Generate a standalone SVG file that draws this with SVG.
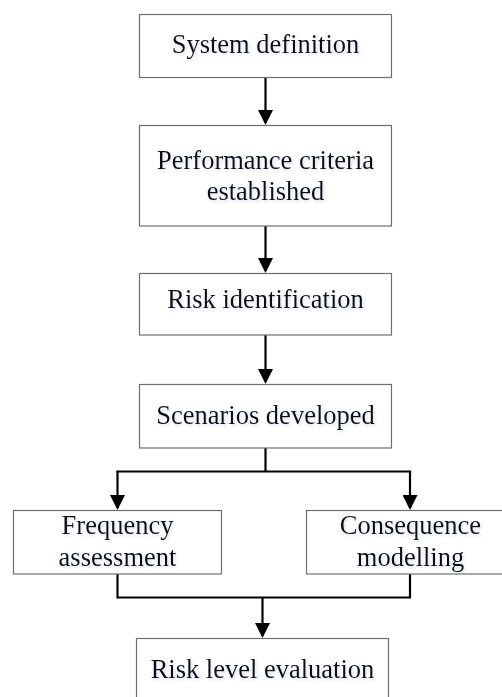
<svg xmlns="http://www.w3.org/2000/svg" width="502" height="697" viewBox="0 0 502 697">
  <defs>
    <marker id="arrow" markerUnits="userSpaceOnUse" markerWidth="15" markerHeight="15" viewBox="0 0 15 15" refX="13" refY="7.5" orient="auto">
      <path d="M0,0 L15,7.5 L0,15 Z" fill="#000"/>
    </marker>
    <filter id="soft" x="-10%" y="-30%" width="120%" height="160%">
      <feDropShadow dx="1.5" dy="2" stdDeviation="1.5" flood-color="#8fa8d0" flood-opacity="0.35"/>
    </filter>
  </defs>
  <style>
    .box { fill: #fff; stroke: #6e6e6e; stroke-width: 1.2; }
    .lbl { font-family: "Liberation Serif", "Times New Roman", serif; font-size: 26.5px; fill: #111; text-anchor: middle; filter: url(#soft); }
    .wire { fill: none; stroke: #000; stroke-width: 2.2; }
  </style>
  <rect width="502" height="697" fill="#fff"/>

  <g id="connectors">
    <path class="wire" d="M265.5 78 V123" marker-end="url(#arrow)"/>
    <path class="wire" d="M265.5 226 V271" marker-end="url(#arrow)"/>
    <path class="wire" d="M265.5 335 V382" marker-end="url(#arrow)"/>
    <path class="wire" d="M265.5 448 V471.5"/>
    <path class="wire" d="M116.4 471.5 H411.1"/>
    <path class="wire" d="M117.5 471.5 V508" marker-end="url(#arrow)"/>
    <path class="wire" d="M410 471.5 V508" marker-end="url(#arrow)"/>
    <path class="wire" d="M117.5 574 V597.5 H410 V574"/>
    <path class="wire" d="M262.5 597.5 V636" marker-end="url(#arrow)"/>
  </g>

  <g id="system-definition">
    <rect class="box" x="139.5" y="14.5" width="252" height="63"/>
    <text class="lbl" x="265.5" y="53.3">System definition</text>
  </g>
  <g id="performance-criteria">
    <rect class="box" x="139.5" y="125.5" width="252" height="100.5"/>
    <text class="lbl" x="265.5" y="169.3">Performance criteria</text>
    <text class="lbl" x="265.5" y="200">established</text>
  </g>
  <g id="risk-identification">
    <rect class="box" x="139.5" y="273.5" width="252" height="61.5"/>
    <text class="lbl" x="265.5" y="308.3">Risk identification</text>
  </g>
  <g id="scenarios-developed">
    <rect class="box" x="139.5" y="384.5" width="252" height="63.5"/>
    <text class="lbl" x="265.5" y="424.3">Scenarios developed</text>
  </g>
  <g id="frequency-assessment">
    <rect class="box" x="13.5" y="510.5" width="208" height="63.5"/>
    <text class="lbl" x="117.5" y="534.3">Frequency</text>
    <text class="lbl" x="117.5" y="566">assessment</text>
  </g>
  <g id="consequence-modelling">
    <rect class="box" x="306.5" y="510.5" width="208" height="63.5"/>
    <text class="lbl" x="410.5" y="534.3">Consequence</text>
    <text class="lbl" x="410.5" y="566">modelling</text>
  </g>
  <g id="risk-level-evaluation">
    <rect class="box" x="136.5" y="638.5" width="252" height="70"/>
    <text class="lbl" x="262.5" y="677.7">Risk level evaluation</text>
  </g>
</svg>
